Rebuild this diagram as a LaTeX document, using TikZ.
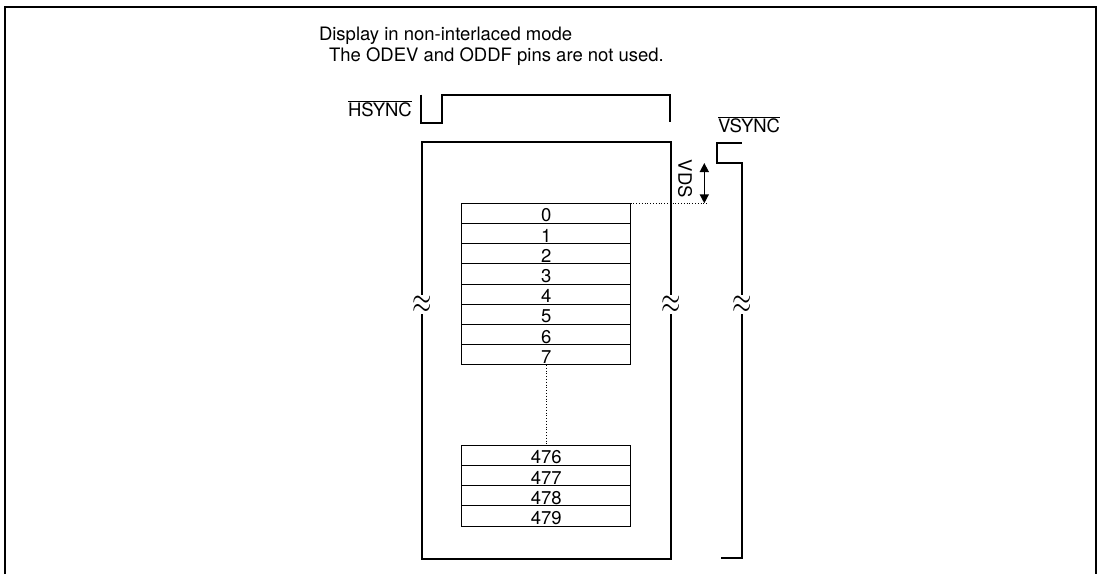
\documentclass[tikz,border=0pt]{standalone}
\usepackage{fontspec}
\setmainfont{TeX Gyre Heros}
\usetikzlibrary{arrows.meta}
\begin{document}
\begin{tikzpicture}[x=1pt,y=-1pt,
  every node/.style={font=\fontsize{18.5}{22}\selectfont, inner sep=0pt, outer sep=0pt},
  rowbox/.style={draw, line width=1pt, minimum width=168.7pt, minimum height=20.2pt, text height=16.8pt, text depth=0pt},
  squig/.style={fill=white, inner sep=0.3pt, font=\fontsize{25}{25}\selectfont},
  sig/.style={line width=2pt},
  lbl/.style={anchor=base west}]
\useasboundingbox (0,0) rectangle (1100,574);
% outer frame
\draw[line width=2pt] (5,574) -- (5,7.3) -- (1096,7.3) -- (1096,574);
% titles
\node[lbl] (t1) at (319,40) {Display in non-interlaced mode};
\node[lbl] (t2) at (329,61.7) {The ODEV and ODDF pins are not used.};
% screen
\node[draw, line width=2.3pt, minimum width=249pt, minimum height=417pt] (screen) at (546.2,350.5) {};
% rows
\foreach \i in {0,...,7}
  \node[rowbox] (r\i) at (546.3,213.4+20.2*\i) {\i};
\foreach \k/\j in {0/476,1/477,2/478,3/479}
  \node[rowbox] (r\j) at (546.3,455.4+20.2*\k) {\j};
\draw[dotted, line width=0.8pt] (r7.south) -- (r476.north);
% HSYNC
\node[lbl] (hs) at (348,116.5) {$\overline{\mbox{HSYNC}}$};
\draw[sig] (420.5,94.5) -- (420.5,122.5) -- (441.7,122.5) -- (441.7,94.5) -- (670,94.5) -- (670,122);
% VSYNC
\node[lbl] (vs) at (718,132.7) {$\overline{\mbox{VSYNC}}$};
\draw[sig] (741.7,143.3) -- (717.3,143.3) -- (717.3,162.7) -- (741.7,162.7) -- (741.7,557.7) -- (720.7,557.7);
% VDS
\coordinate (vdsEnd) at (707,203.3);
\coordinate (vdsTop) at (704.3,163);
\coordinate (vdsBot) at (704.3,203.3);
\draw[dotted, line width=0.8pt] (r0.north east) -- (vdsEnd);
\draw[{Triangle[width=9pt,length=9pt]}-{Triangle[width=9pt,length=9pt]}, line width=1.5pt] (vdsTop) -- (vdsBot);
\node[rotate=-90] (vds) at (685,179) {VDS};
% break marks
\node[squig] (b1) at (421.7,304.5) {\scalebox{1}[1.45]{$\approx$}};
\node[squig] (b2) at (670.7,304.5) {\scalebox{1}[1.45]{$\approx$}};
\node[squig] (b3) at (741.7,304.5) {\scalebox{1}[1.45]{$\approx$}};
\end{tikzpicture}
\end{document}
